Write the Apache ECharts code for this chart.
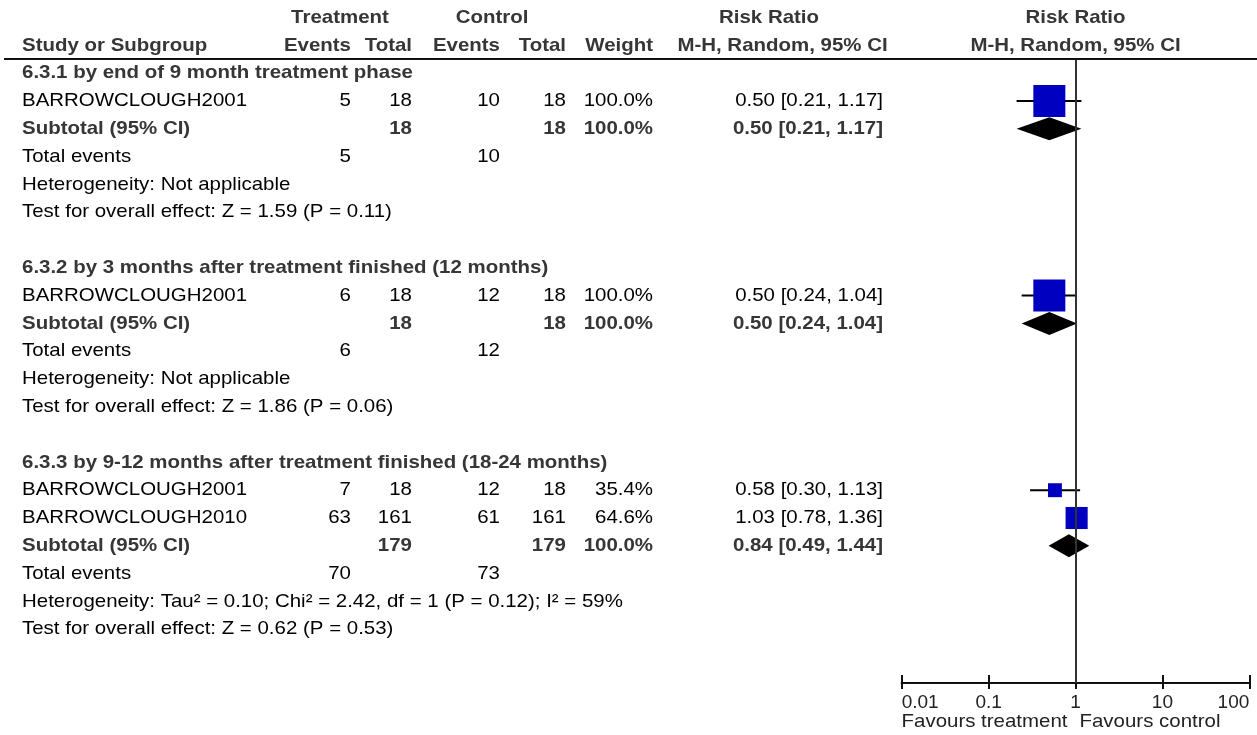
<!DOCTYPE html>
<html><head><meta charset="utf-8">
<script src="https://cdn.jsdelivr.net/npm/echarts@6/dist/echarts.min.js"></script>
<style>html,body{margin:0;padding:0;background:#fff}#c{width:1257px;height:735px}</style>
</head><body><div id="c"></div>
<script>
// ---------------- data ----------------
const groupTitles = [
  '6.3.1 by end of 9 month treatment phase',
  '6.3.2 by 3 months after treatment finished (12 months)',
  '6.3.3 by 9-12 months after treatment finished (18-24 months)'
];
const studyNames  = ['BARROWCLOUGH2001', 'BARROWCLOUGH2001', 'BARROWCLOUGH2001', 'BARROWCLOUGH2010'];
const studyGroup  = [0, 1, 2, 2];
const tEvents     = [5, 6, 7, 63];
const tTotal      = [18, 18, 18, 161];
const cEvents     = [10, 12, 12, 61];
const cTotal      = [18, 18, 18, 161];
const studyWeight = [100.0, 100.0, 35.4, 64.6];
const studyRR     = [0.50, 0.50, 0.58, 1.03];
const studyLo     = [0.21, 0.24, 0.30, 0.78];
const studyHi     = [1.17, 1.04, 1.13, 1.36];

const subTotalT   = [18, 18, 179];
const subTotalC   = [18, 18, 179];
const subWeight   = [100.0, 100.0, 100.0];
const subRR       = [0.50, 0.50, 0.84];
const subLo       = [0.21, 0.24, 0.49];
const subHi       = [1.17, 1.04, 1.44];
const totEventsT  = [5, 6, 70];
const totEventsC  = [10, 12, 73];
const heterogeneity = [
  'Heterogeneity: Not applicable',
  'Heterogeneity: Not applicable',
  'Heterogeneity: Tau\u00B2 = 0.10; Chi\u00B2 = 2.42, df = 1 (P = 0.12); I\u00B2 = 59%'
];
const overallTests = [
  'Test for overall effect: Z = 1.59 (P = 0.11)',
  'Test for overall effect: Z = 1.86 (P = 0.06)',
  'Test for overall effect: Z = 0.62 (P = 0.53)'
];
const tickValues = [0.01, 0.1, 1, 10, 100];
const tickLabels = ['0.01', '0.1', '1', '10', '100'];
const favoursLabels = ['Favours treatment', 'Favours control'];

// ---------------- layout & style ----------------
const FONT_FAMILY = '"Liberation Sans", Arial, Helvetica, sans-serif';
const FS = 18.6, SX = 1.1;
const NORMAL = '#000', BOLD = '#363636';
const COL = {label: 22, tEv: 351, tTot: 412, cEv: 500, cTot: 566, wt: 653, rr: 883};
const ROW_H = 27.8, FIRST_ROW_Y = 73.2, GRID_TOP = 58, GRID_BOTTOM_Y = 683;
const yMin = -(FIRST_ROW_Y - GRID_TOP) / ROW_H;
const yMax = yMin + (GRID_BOTTOM_Y - GRID_TOP) / ROW_H;
const FAVOURS_U = 23.35;

// rows
const rows = [{kind: 'hdr1', u: -2}, {kind: 'hdr2', u: -1}];
let u = 0;
groupTitles.forEach((t, g) => {
  rows.push({kind: 'title', u: u++, g});
  studyGroup.forEach((sg, i) => { if (sg === g) rows.push({kind: 'study', u: u++, i, g}); });
  rows.push({kind: 'subtotal', u: u++, g});
  rows.push({kind: 'events', u: u++, g});
  rows.push({kind: 'het', u: u++, g});
  rows.push({kind: 'test', u: u++, g});
  u++;
});
rows.push({kind: 'favours', u: FAVOURS_U});

function txt(x, y, s, align, bold, color) {
  return {
    type: 'text', x: x, y: y, scaleX: SX, scaleY: 1, originX: 0, originY: 0,
    style: {text: s, x: 0, y: 0, align: align, verticalAlign: 'middle',
      fontSize: FS, fontFamily: FONT_FAMILY, fontWeight: bold ? 'bold' : 'normal',
      fill: color || (bold ? BOLD : NORMAL)}
  };
}
const f2 = v => v.toFixed(2);
const rrText = (r, l, h) => f2(r) + ' [' + f2(l) + ', ' + f2(h) + ']';

const studyData = [], subData = [];
rows.forEach(r => {
  if (r.kind === 'study') studyData.push([studyRR[r.i], r.u, studyLo[r.i], studyHi[r.i], studyWeight[r.i]]);
  if (r.kind === 'subtotal') subData.push([subRR[r.g], r.u, subLo[r.g], subHi[r.g], subWeight[r.g]]);
});

const chart = echarts.init(document.getElementById('c'), null, {renderer: 'canvas'});
const gridBox = {left: 901.7, right: 7.7, top: GRID_TOP, bottom: 735 - GRID_BOTTOM_Y, containLabel: false};
const axisBase = {
  type: 'log', logBase: 10, min: 0.01, max: 100, position: 'bottom',
  splitLine: {show: false}, minorTick: {show: false}, minorSplitLine: {show: false},
  axisLine: {show: true, onZero: false, lineStyle: {color: '#111', width: 2}}
};
chart.setOption({
  animation: false,
  backgroundColor: '#fff',
  grid: [Object.assign({}, gridBox), Object.assign({}, gridBox)],
  xAxis: [
    Object.assign({}, axisBase, {
      gridIndex: 0,
      axisTick: {show: true, inside: true, length: 8, lineStyle: {color: '#111', width: 2}},
      axisLabel: {show: true, margin: 10, fontSize: 19, color: '#222', fontFamily: FONT_FAMILY,
        showMinLabel: true, showMaxLabel: true, alignMinLabel: 'left', alignMaxLabel: 'right',
        formatter: v => {
          const i = tickValues.findIndex(t => Math.abs(Math.log10(t) - Math.log10(v)) < 1e-6);
          return i >= 0 ? tickLabels[i] : '';
        }}
    }),
    Object.assign({}, axisBase, {
      gridIndex: 1,
      axisTick: {show: true, inside: false, length: 6, lineStyle: {color: '#111', width: 2}},
      axisLabel: {show: false}
    })
  ],
  yAxis: [
    {gridIndex: 0, type: 'value', inverse: true, min: yMin, max: yMax, show: false},
    {gridIndex: 1, type: 'value', inverse: true, min: yMin, max: yMax, show: false}
  ],
  graphic: [{
    type: 'line', shape: {x1: 4, y1: 59, x2: 1257, y2: 59},
    style: {stroke: '#111', lineWidth: 2}, z: 10
  }],
  series: [
    {
      type: 'scatter', data: [], z: 1, silent: true, xAxisIndex: 0, yAxisIndex: 0,
      markLine: {silent: true, symbol: ['none', 'none'], label: {show: false},
        lineStyle: {color: '#333', width: 2, type: 'solid'}, data: [{xAxis: 1}], animation: false}
    },
    {
      type: 'custom', z: 2, clip: false, silent: true, xAxisIndex: 0, yAxisIndex: 0,
      data: rows.map(r => [1, r.u]), encode: {x: 0, y: 1},
      renderItem: (params, api) => {
        const r = rows[params.dataIndex];
        const p = api.coord([1, r.u]);
        const y = p[1], xOne = p[0];
        const c = [];
        switch (r.kind) {
          case 'hdr1':
            c.push(txt(340, y, 'Treatment', 'center', true), txt(492, y, 'Control', 'center', true),
              txt(769, y, 'Risk Ratio', 'center', true), txt(xOne, y, 'Risk Ratio', 'center', true));
            break;
          case 'hdr2':
            c.push(txt(COL.label, y, 'Study or Subgroup', 'left', true),
              txt(COL.tEv, y, 'Events', 'right', true), txt(COL.tTot, y, 'Total', 'right', true),
              txt(COL.cEv, y, 'Events', 'right', true), txt(COL.cTot, y, 'Total', 'right', true),
              txt(COL.wt, y, 'Weight', 'right', true),
              txt(782.5, y, 'M-H, Random, 95% CI', 'center', true),
              txt(xOne, y, 'M-H, Random, 95% CI', 'center', true));
            break;
          case 'title':
            c.push(txt(COL.label, y, groupTitles[r.g], 'left', true));
            break;
          case 'study':
            c.push(txt(COL.label, y, studyNames[r.i], 'left', false),
              txt(COL.tEv, y, String(tEvents[r.i]), 'right', false),
              txt(COL.tTot, y, String(tTotal[r.i]), 'right', false),
              txt(COL.cEv, y, String(cEvents[r.i]), 'right', false),
              txt(COL.cTot, y, String(cTotal[r.i]), 'right', false),
              txt(COL.wt, y, studyWeight[r.i].toFixed(1) + '%', 'right', false),
              txt(COL.rr, y, rrText(studyRR[r.i], studyLo[r.i], studyHi[r.i]), 'right', false));
            break;
          case 'subtotal':
            c.push(txt(COL.label, y, 'Subtotal (95% CI)', 'left', true),
              txt(COL.tTot, y, String(subTotalT[r.g]), 'right', true),
              txt(COL.cTot, y, String(subTotalC[r.g]), 'right', true),
              txt(COL.wt, y, subWeight[r.g].toFixed(1) + '%', 'right', true),
              txt(COL.rr, y, rrText(subRR[r.g], subLo[r.g], subHi[r.g]), 'right', true));
            break;
          case 'events':
            c.push(txt(COL.label, y, 'Total events', 'left', false),
              txt(COL.tEv, y, String(totEventsT[r.g]), 'right', false),
              txt(COL.cEv, y, String(totEventsC[r.g]), 'right', false));
            break;
          case 'het':
            c.push(txt(COL.label, y, heterogeneity[r.g], 'left', false));
            break;
          case 'test':
            c.push(txt(COL.label, y, overallTests[r.g], 'left', false));
            break;
          case 'favours':
            c.push(txt(xOne - 8, y, favoursLabels[0], 'right', false, '#222'),
              txt(xOne + 4, y, favoursLabels[1], 'left', false, '#222'));
            break;
        }
        return {type: 'group', children: c};
      }
    },
    {
      type: 'custom', z: 3, clip: false, silent: true, xAxisIndex: 0, yAxisIndex: 0,
      data: studyData, encode: {x: [0, 2, 3], y: 1},
      renderItem: (params, api) => {
        const rr = api.value(0), yy = api.value(1), lo = api.value(2), hi = api.value(3), w = api.value(4);
        const c = api.coord([rr, yy]), a = api.coord([lo, yy]), b = api.coord([hi, yy]);
        const s = 4 + 28 * w / 100;
        return {type: 'group', children: [
          {type: 'line', shape: {x1: a[0], y1: a[1], x2: b[0], y2: b[1]}, style: {stroke: '#000', lineWidth: 2}},
          {type: 'rect', shape: {x: c[0] - s / 2, y: c[1] - s / 2, width: s, height: s}, style: {fill: '#0000C0'}}
        ]};
      }
    },
    {
      type: 'custom', z: 3, clip: false, silent: true, xAxisIndex: 0, yAxisIndex: 0,
      data: subData, encode: {x: [0, 2, 3], y: 1},
      renderItem: (params, api) => {
        const rr = api.value(0), yy = api.value(1), lo = api.value(2), hi = api.value(3);
        const c = api.coord([rr, yy]), a = api.coord([lo, yy]), b = api.coord([hi, yy]);
        const h = 11.5;
        return {type: 'polygon', shape: {points: [[a[0], c[1]], [c[0], c[1] - h], [b[0], c[1]], [c[0], c[1] + h]]},
          style: {fill: '#000'}};
      }
    }
  ]
});
</script>
</body></html>
